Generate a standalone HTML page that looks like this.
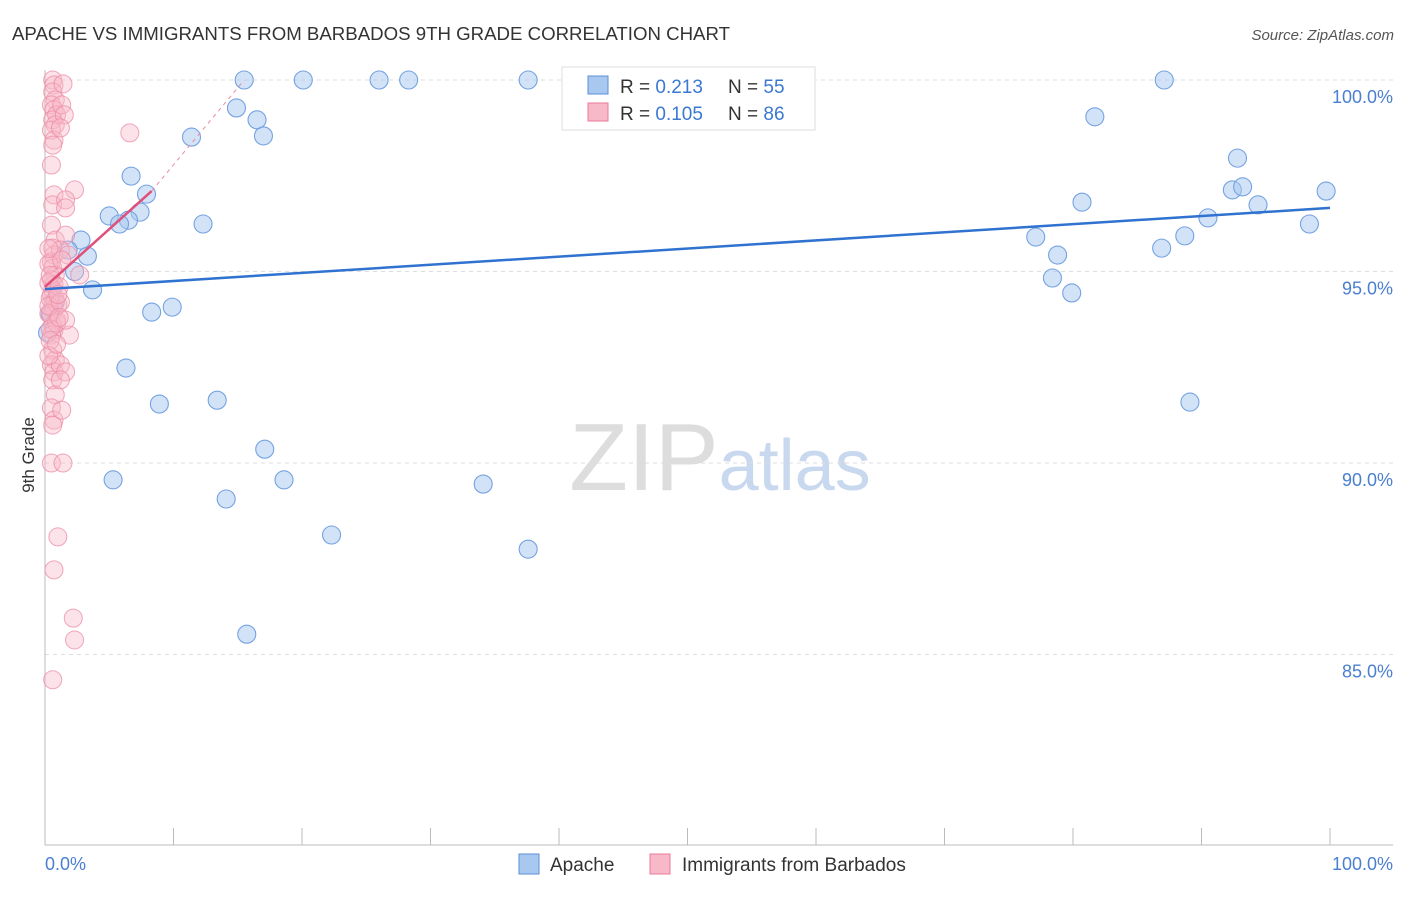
<!DOCTYPE html>
<html><head><meta charset="utf-8"><style>
body{margin:0;background:#fff;font-family:"Liberation Sans",sans-serif}
svg text{font-family:"Liberation Sans",sans-serif}
</style></head><body>
<svg id="c" width="1406" height="892">
<text x="12" y="40" font-size="18" fill="#333" textLength="718" lengthAdjust="spacingAndGlyphs">APACHE VS IMMIGRANTS FROM BARBADOS 9TH GRADE CORRELATION CHART</text>
<text x="1394" y="40" font-size="15" fill="#555" text-anchor="end" font-style="italic">Source: ZipAtlas.com</text>
<text x="720" y="490" font-size="96" fill="#ddd" text-anchor="middle" font-family="Liberation Serif">ZIP<tspan fill="#c8d8ee" font-family="Liberation Sans" font-size="72">atlas</tspan></text>
<g id="grid"></g><g id="marks"></g>
<text transform="translate(34,455) rotate(-90)" font-size="17" fill="#333" text-anchor="middle">9th Grade</text>
<text x="45" y="870" font-size="18" fill="#4a7fd0">0.0%</text>
<text x="1393" y="870" font-size="18" fill="#4a7fd0" text-anchor="end">100.0%</text>
<g>
<rect x="562" y="67" width="253" height="63" fill="#fff" stroke="#ddd"/>
<rect x="588" y="76" width="20" height="18" fill="#a8c8f0" stroke="#5b8fd8"/>
<rect x="588" y="103" width="20" height="18" fill="#f7b8c8" stroke="#e87a9a"/>
<text x="620" y="93" font-size="19" fill="#333">R = <tspan fill="#3b78d0">0.213</tspan><tspan x="728">N = </tspan><tspan fill="#3b78d0">55</tspan></text>
<text x="620" y="120" font-size="19" fill="#333">R = <tspan fill="#3b78d0">0.105</tspan><tspan x="728">N = </tspan><tspan fill="#3b78d0">86</tspan></text>
</g>
<g>
<rect x="519" y="854" width="20" height="20" fill="#a8c8f0" stroke="#5b8fd8"/>
<text x="550" y="871" font-size="19" fill="#333">Apache</text>
<rect x="650" y="854" width="20" height="20" fill="#f7b8c8" stroke="#e87a9a"/>
<text x="682" y="871" font-size="19" fill="#333">Immigrants from Barbados</text>
</g>
</svg>
<script>
const yTicks=[100,95,90,85];
const yTickLabels=["100.0%","95.0%","90.0%","85.0%"];
const blueX=[15.5,20.1,26,28.3,37.6,87.1,14.9,16.5,11.4,17,81.7,6.7,7.9,7.4,5,6.5,5.8,12.3,2.8,1.8,3.3,2.3,3.7,8.3,9.9,6.3,8.9,13.4,17.1,18.6,5.3,14.1,22.3,34.1,37.6,15.7,92.8,92.4,93.2,94.4,90.5,99.7,98.4,80.7,77.1,78.8,78.4,79.9,86.9,88.7,89.1,43,0.8,0.4,0.2];
const blueY=[100,100,100,100,100,100,99.27,98.96,98.51,98.54,99.04,97.49,97.02,96.55,96.45,96.34,96.24,96.24,95.82,95.56,95.4,95,94.52,93.94,94.07,92.48,91.54,91.64,90.36,89.56,89.56,89.06,88.12,89.45,87.75,85.53,97.96,97.13,97.21,96.74,96.4,97.1,96.24,96.81,95.9,95.43,94.83,94.44,95.61,95.93,91.59,99.9,94.2,93.9,93.4];
const pinkX=[0.6,0.7,0.6,0.8,0.5,0.7,0.9,0.6,0.8,0.5,0.7,0.6,0.5,0.7,0.6,0.5,0.8,0.6,0.7,0.5,0.6,0.8,0.5,0.7,0.6,0.5,0.8,0.6,0.7,0.5,0.9,0.6,0.7,0.5,0.6,0.8,0.5,0.7,0.6,0.8,0.5,0.7,0.6,0.5,1,0.7,0.6,1.4,1.3,1.5,1.2,2.3,1.6,1.6,1.6,2.7,1.9,1.2,1.6,1.2,1.3,1.4,2.2,2.3,6.6,1.2,1.8,1,0.9,1.6,0.3,0.3,0.4,0.3,0.4,0.3,0.4,0.3,0.4,0.3,1.1,1.2,1.3,1.1,1,0.9];
const pinkY=[100,99.87,99.69,99.48,99.35,99.22,99.09,98.96,98.83,98.69,98.43,98.3,97.78,97,96.74,96.21,95.82,95.61,95.43,95.25,95.09,94.91,94.78,94.65,94.52,94.39,94.26,94.13,94,93.87,93.73,93.6,93.47,93.34,92.95,92.69,92.56,92.38,92.17,91.78,91.44,91.12,90.99,90,88.07,87.21,84.34,99.9,99.35,99.09,98.75,97.13,96.87,96.66,95.95,94.91,93.34,92.56,92.38,92.17,91.38,90,85.95,85.38,98.62,95.56,95.43,94.13,93.66,93.73,95.2,94.7,94.3,93.9,93.5,95.6,94.9,94.1,93.2,92.8,94.6,94.2,95.3,93.8,94.4,93.1];
const sx=v=>45+v*12.85, sy=v=>80+(100-v)*38.3;
const ns="http://www.w3.org/2000/svg";
const grid=document.getElementById('grid'),marks=document.getElementById('marks'),svg=document.getElementById('c');
function mk(p,tag,a){const e=document.createElementNS(ns,tag);for(const k in a)e.setAttribute(k,a[k]);p.appendChild(e);return e;}
yTicks.forEach((t,i)=>{const l=mk(grid,'line',{x1:45,x2:1393,y1:sy(t),y2:sy(t),stroke:'#ddd','stroke-dasharray':'4,4'});


const tx=mk(svg,'text',{x:1393,y:sy(t)+23,'font-size':18,fill:'#4a7fd0','text-anchor':'end'});tx.textContent=yTickLabels[i];

});
const ax=mk(grid,'line',{x1:45,x2:1393,y1:845,y2:845,stroke:'#bbb'});


const ay=mk(grid,'line',{x1:45,x2:45,y1:70,y2:845,stroke:'#bbb'});


for(let i=1;i<=10;i++){const t=mk(grid,'line',{x1:sx(i*10),x2:sx(i*10),y1:828,y2:845,stroke:'#bbb'});

}
blueX.forEach((x,i)=>{const c=mk(marks,'circle',{cx:sx(x),cy:sy(blueY[i]),r:9,fill:'rgba(168,200,240,0.5)',stroke:'#74a2e2','stroke-width':1.1});

});
pinkX.forEach((x,i)=>{const c=mk(marks,'circle',{cx:sx(x),cy:sy(pinkY[i]),r:9,fill:'rgba(247,184,200,0.4)',stroke:'rgba(236,138,166,0.75)','stroke-width':1});

});
const bl=mk(marks,'line',{x1:sx(0),y1:sy(94.54),x2:sx(100),y2:sy(96.66),stroke:'#2f72d0','stroke-width':2.5});


const pd=mk(marks,'line',{x1:sx(8.3),y1:sy(97.1),x2:sx(15.5),y2:sy(100),stroke:'#e88aa6','stroke-width':1,'stroke-dasharray':'4,4'});


const pl=mk(marks,'line',{x1:sx(0),y1:sy(94.6),x2:sx(8.3),y2:sy(97.1),stroke:'#e0507a','stroke-width':2.5});


</script>
</body></html>
